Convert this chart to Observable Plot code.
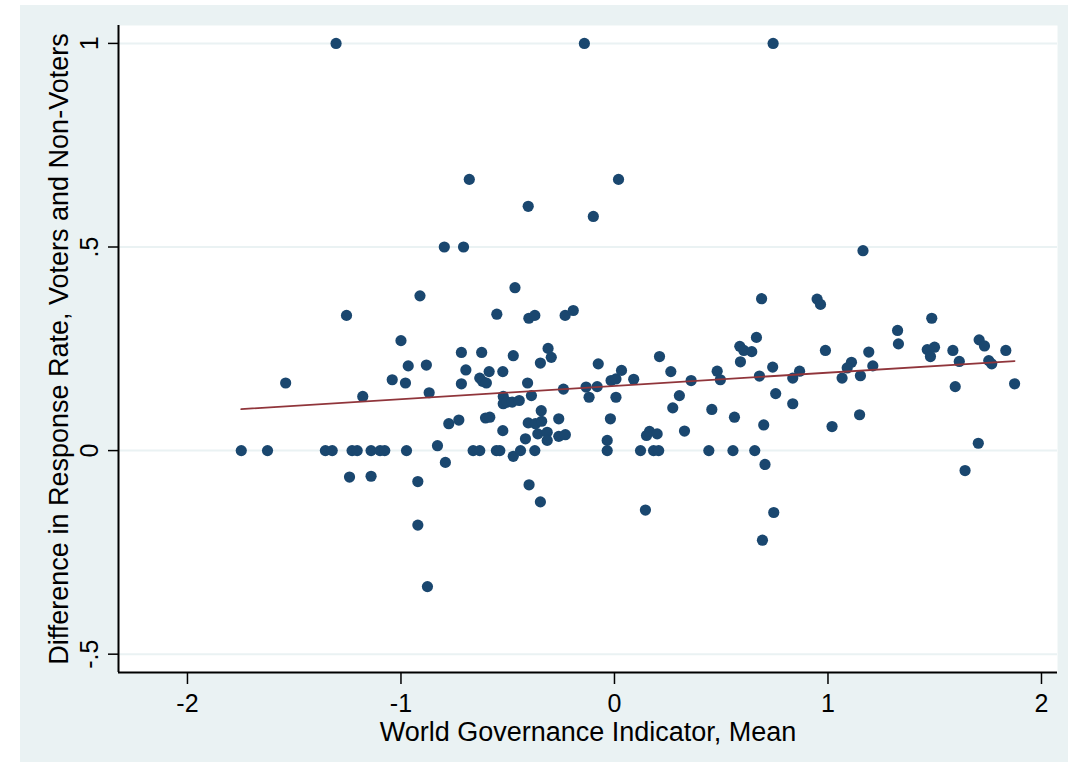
<!DOCTYPE html>
<html><head><meta charset="utf-8">
<script src="https://cdn.jsdelivr.net/npm/d3@7"></script>
<script src="https://cdn.jsdelivr.net/npm/@observablehq/plot@0.6"></script>
<style>
body{margin:0;background:#fff;}
#chart{position:absolute;left:20px;top:5px;width:1048px;height:757px;background:#EAF2F3;}
#chart svg{display:block;}
</style></head><body><div id="chart"></div>
<script>
const wgi = [
-1.304, -0.141, 0.743, -0.680, 0.019, -0.404, -0.099, -0.797, -0.707, 1.164,
-0.911, -0.466, 0.689, 0.949, 0.965, -1.255, -1.000, -0.966, -0.881, -1.540,
-1.041, -0.979, -1.179, -0.868, -0.829, -1.748, -1.625, -1.354, -1.322, -1.229,
-1.205, -1.140, -1.098, -1.076, -0.974, -1.241, -1.140, -0.921, -0.551, -0.401,
-0.373, -0.231, -0.193, -0.717, -0.622, -0.474, -0.311, -0.296, -0.347, -0.076,
-0.696, -0.587, -0.523, -0.631, -0.618, -0.600, -0.717, -0.407, -0.521, -0.521,
-0.503, -0.479, -0.446, -0.389, -0.239, -0.133, -0.081, -0.119, -0.016, 0.007,
0.033, 0.007, -0.343, -0.776, -0.729, -0.604, -0.584, -0.261, -0.019, -0.404,
-0.370, -0.341, -0.359, -0.315, -0.315, -0.523, -0.417, -0.261, -0.230, -0.034,
-0.662, -0.631, -0.553, -0.537, -0.373, -0.034, -0.474, -0.440, -0.792, -0.400,
-0.347, -0.921, -0.876, 0.145, 0.122, 0.665, 0.587, 0.606, 0.643, 0.590,
0.211, 0.988, 0.090, 0.264, 0.359, 0.481, 0.496, 0.679, 0.741, 0.867,
0.835, 0.304, 0.273, 0.456, 0.755, 0.835, 0.562, 0.699, 0.328, 0.150,
0.164, 0.200, 0.183, 0.207, 0.442, 0.555, 0.657, 0.705, 1.019, 0.746,
0.693, 1.486, 1.326, 1.330, 1.465, 1.499, 1.480, 1.585, 1.708, 1.733,
1.833, 1.191, 1.110, 1.090, 1.210, 1.066, 1.152, 1.615, 1.753, 1.767,
1.596, 1.874, 1.148, 1.704, 1.642
];
const diff = [
1, 1, 1, 0.666, 0.666, 0.600, 0.575, 0.5, 0.5, 0.491,
0.380, 0.400, 0.373, 0.372, 0.359, 0.332, 0.270, 0.208, 0.210, 0.166,
0.174, 0.166, 0.133, 0.142, 0.012, 0, 0, 0, 0, 0,
0, 0, 0, 0, 0, -0.065, -0.063, -0.076, 0.335, 0.325,
0.332, 0.332, 0.344, 0.241, 0.241, 0.233, 0.251, 0.229, 0.215, 0.213,
0.198, 0.194, 0.194, 0.178, 0.170, 0.166, 0.164, 0.166, 0.133, 0.115,
0.119, 0.119, 0.123, 0.135, 0.151, 0.156, 0.157, 0.131, 0.172, 0.176,
0.197, 0.131, 0.098, 0.066, 0.075, 0.080, 0.082, 0.078, 0.078, 0.068,
0.066, 0.072, 0.041, 0.045, 0.025, 0.049, 0.029, 0.035, 0.039, 0.025,
0, 0, 0, 0, 0, 0, -0.014, 0, -0.029, -0.084,
-0.126, -0.183, -0.334, -0.146, 0, 0.278, 0.256, 0.246, 0.243, 0.218,
0.231, 0.246, 0.175, 0.194, 0.172, 0.195, 0.174, 0.183, 0.205, 0.195,
0.178, 0.135, 0.105, 0.101, 0.140, 0.115, 0.082, 0.063, 0.048, 0.037,
0.047, 0.041, 0, 0, 0, 0, 0, -0.034, 0.059, -0.152,
-0.220, 0.325, 0.295, 0.262, 0.248, 0.254, 0.231, 0.246, 0.272, 0.257,
0.246, 0.242, 0.217, 0.203, 0.208, 0.178, 0.184, 0.219, 0.221, 0.213,
0.157, 0.164, 0.088, 0.018, -0.049
];
const xTicks = [-2, -1, 0, 1, 2];
const xTickLabels = ["-2", "-1", "0", "1", "2"];
const yTicks = [-0.5, 0, 0.5, 1];
const yTickLabels = ["-.5", "0", ".5", "1"];
const xDomain = [-2.323, 2.075];
const yDomain = [-0.545, 1.044];
const xTitle = "World Governance Indicator, Mean";
const yTitle = "Difference in Response Rate, Voters and Non-Voters";

const data = wgi.map((x, i) => ({x, y: diff[i]}));
const font = "'Liberation Sans', Arial, sans-serif";

const plot = Plot.plot({
  width: 1048, height: 757,
  marginLeft: 98, marginRight: 11, marginTop: 20, marginBottom: 90,
  style: {background: "transparent", fontFamily: font, fontSize: "25px", color: "#000", overflow: "visible"},
  x: {domain: xDomain},
  y: {domain: yDomain},
  marks: [
    Plot.frame({fill: "white", stroke: null}),
    Plot.gridY(yTicks, {stroke: "#EAF2F3", strokeWidth: 2, strokeOpacity: 1}),
    Plot.axisX(xTicks, {tickSize: 12, tickPadding: 10, tickFormat: d => xTickLabels[xTicks.indexOf(d)], fontSize: 25,
      label: null, strokeWidth: 1.5}),
    Plot.axisX({ticks: [], tickSize: 0, label: xTitle, labelAnchor: "center", labelArrow: "none", labelOffset: 68, fontSize: 27}),
    Plot.axisY(yTicks, {tickSize: 10, tickPadding: 11, tickRotate: -90, tickFormat: d => yTickLabels[yTicks.indexOf(d)], fontSize: 25,
      label: null, strokeWidth: 1.5}),
    Plot.axisY({ticks: [], tickSize: 0, label: yTitle, labelAnchor: "center", labelArrow: "none", labelOffset: 70, fontSize: 27}),
    Plot.ruleX([xDomain[0]], {stroke: "#000", strokeWidth: 2}),
    Plot.ruleY([yDomain[0]], {stroke: "#000", strokeWidth: 2}),
    Plot.dot(data, {x: "x", y: "y", r: 5.6, fill: "#1A476F", stroke: null}),
    Plot.linearRegressionY(data, {x: "x", y: "y", stroke: "#90353B", strokeWidth: 1.8, ci: 0})
  ]
});
document.getElementById("chart").appendChild(plot);
</script>
</body></html>
